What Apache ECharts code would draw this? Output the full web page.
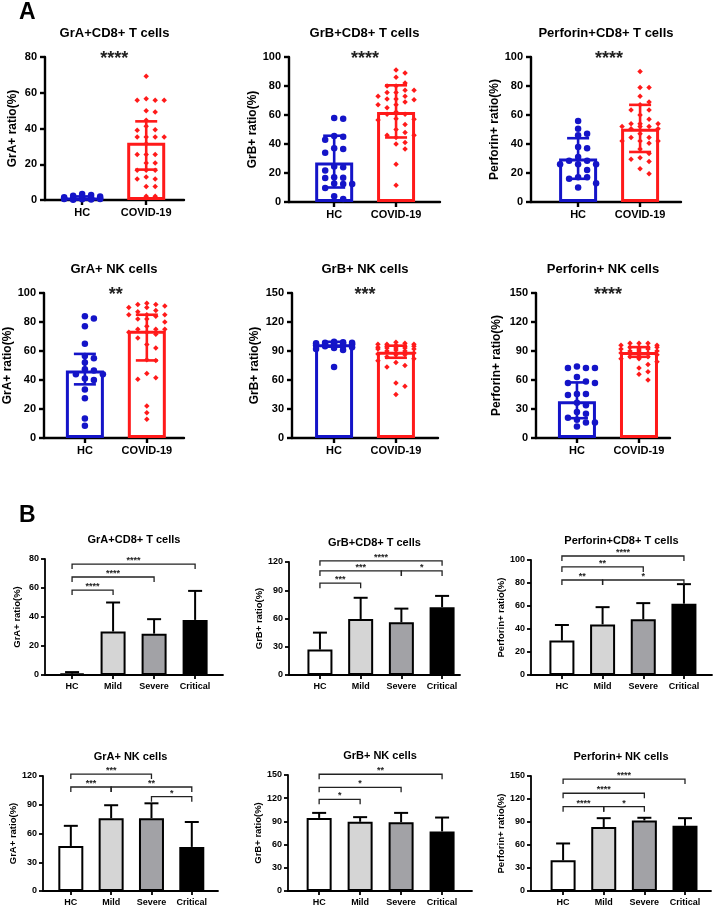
<!DOCTYPE html>
<html>
<head>
<meta charset="utf-8">
<script src="https://cdn.jsdelivr.net/npm/echarts@6/dist/echarts.min.js"></script>
<style>
  html, body { margin: 0; padding: 0; background: #fff; }
  #chart { width: 714px; height: 907px; }
</style>
</head>
<body>
<div id="chart"></div>
<script>
// ---- panel A: HC vs COVID-19 ----
const groupsA = ['HC', 'COVID-19']
const titles = ['GrA+CD8+ T cells', 'GrB+CD8+ T cells', 'Perforin+CD8+ T cells', 'GrA+ NK cells', 'GrB+ NK cells', 'Perforin+ NK cells']
const yNames = ['GrA+ ratio(%)', 'GrB+ ratio(%)', 'Perforin+ ratio(%)', 'GrA+ ratio(%)', 'GrB+ ratio(%)', 'Perforin+ ratio(%)']
const yMaxA = [80, 100, 100, 100, 150, 150]
const yStepA = [20, 20, 20, 20, 30, 30]
const starsA = ['****', '****', '****', '**', '***', '****']
const meanA = [[1.1, 32], [27.3, 62], [30, 50.5], [46.5, 74], [97, 89.3], [38, 89]]
const lowA = [[0.3, 17], [10, 44.5], [16, 34.5], [37, 53.5], [94.5, 83], [20.5, 84]]
const highA = [[2, 44], [45.7, 80.5], [44, 67], [58, 85], [99.5, 95.5], [57.5, 94]]

const hcA = [
  [0.2, 0.5, 0.8, 1.0, 0.4, 0.6, 1.2, 0.9, 0.3, 1.5, 3.4, 2.4, 2.8, 2.0, 0.7, 1.1, 0.5, 0.9],
  [58, 57.5, 45.5, 45, 43, 37, 36.5, 34, 24.5, 24, 21.8, 17, 16.8, 16.5, 12.8, 12.5, 12.5, 9.7, 4, 2],
  [55.8, 50.5, 47, 46, 38, 37, 31, 28.5, 28.5, 26, 26, 26, 22, 17, 17, 16, 13, 10],
  [84, 82.5, 77, 65, 56.5, 55, 52, 47.5, 46.5, 44, 44, 41, 40, 33.5, 27.5, 13.5, 8.5],
  [99.5, 99, 98.5, 98, 98, 97.5, 97, 97, 96.5, 96, 95.5, 95, 94, 93, 92, 91, 98.5, 73.5],
  [74, 72.5, 72.5, 72.5, 63, 58.5, 57, 57, 45.5, 45.5, 44.5, 36.5, 34, 27, 25, 21, 19, 16, 16, 12]
]
const covidA = [
  [69.2, 55.8, 55.8, 55.8, 56.7, 50, 49.2, 44.6, 41.2, 39, 39.3, 35.2, 35.2, 35.2, 35.2, 31.5, 25.4, 25.4, 25.4, 20.7, 20.7, 16.6, 16.6, 16.6, 12.9, 11.8, 11.8, 7.6, 7.6, 2.1, 2.1],
  [91, 89, 86, 82, 80, 80, 77, 77, 75.5, 75.5, 73, 73, 71, 71, 70.5, 69, 67, 67, 65, 62, 60.5, 60.5, 57.5, 57, 56.5, 53.5, 50, 48, 46, 46, 44.5, 41, 40, 36.5, 26, 11.5],
  [90, 79, 79, 73, 69, 67, 63.5, 63.5, 60, 57, 54, 54, 54, 52, 52, 52, 50.5, 50.5, 47, 44.5, 44.5, 42, 42, 42, 40.5, 36.5, 33.5, 30.5, 29.5, 28, 23, 19.5],
  [93, 92, 92, 91, 90, 90, 88, 87, 85, 85, 85, 84, 82, 82, 80, 77, 75, 75, 75, 73, 73, 71.5, 69, 64.5, 62, 54, 53.5, 44.5, 41.5, 40.5, 22, 17.5, 13],
  [99, 98, 97, 97, 97, 96, 95, 95, 95, 94, 93, 93, 93, 92, 92, 91, 90, 90, 88, 87, 86, 86, 84, 82, 80, 78, 75, 73.5, 57, 53.5, 45],
  [98, 98, 98, 96, 96, 94, 94, 94, 94, 92, 92, 92, 90, 90, 90, 88, 88, 88, 88, 86, 86, 84, 84, 82, 82, 79, 76, 72.5, 68.5, 66, 60]
]

// ---- panel B: HC / Mild / Severe / Critical ----
const groupsB = ['HC', 'Mild', 'Severe', 'Critical']
const yMaxB = [80, 120, 100, 120, 150, 150]
const yStepB = [20, 30, 20, 30, 30, 30]
const meanB = [[1, 30, 28.5, 38], [27, 59.5, 56, 72], [30, 44, 48.5, 62], [47, 76, 76, 46], [94.5, 89.5, 89, 77], [40, 83.5, 92, 85]]
const sdB = [[1, 20, 10, 20], [18, 22.5, 14.5, 12], [13.5, 15, 14, 17], [21, 13.5, 15.5, 26], [6.5, 6, 12, 18], [22, 11.5, 3.5, 10]]
// [from group, to group, height, stars]
const bracketsB = [
  [[0, 1, 58.6, '****'], [0, 2, 67.6, '****'], [0, 3, 76.5, '****']],
  [[0, 1, 97.5, '***'], [0, 2, 110.5, '***'], [2, 3, 110.5, '*'], [0, 3, 121.3, '****']],
  [[0, 1, 82.6, '**'], [1, 3, 82.6, '*'], [0, 2, 94, '**'], [0, 3, 103.5, '****']],
  [[2, 3, 98.4, '*'], [0, 1, 108.5, '***'], [1, 3, 108.5, '**'], [0, 2, 122, '***']],
  [[0, 1, 118.5, '*'], [0, 2, 134, '*'], [0, 3, 151, '**']],
  [[0, 1, 110, '****'], [1, 2, 110, '*'], [0, 2, 127.5, '****'], [0, 3, 146, '****']]
]

// layout: [left, top, right, bottom, xMin, xMax, nameGap]
const layoutA = [
  [45, 57, 184, 200, -0.58, 1.59, 26],
  [289, 57, 440, 202, -0.73, 1.71, 26],
  [531, 57, 681, 202, -0.76, 1.66, 26],
  [44, 293, 184, 438, -0.66, 1.6, 30],
  [292, 293, 438, 438, -0.68, 1.68, 31],
  [536, 293, 670, 438, -0.66, 1.5, 33]
]
const layoutB = [
  [45, 559, 223, 675, -0.66, 3.68, 23],
  [289, 562, 460, 675, -0.76, 3.44, 19],
  [531, 560, 712, 675, -0.76, 3.69, 21],
  [43, 776, 218, 891, -0.69, 3.65, 24],
  [288, 775, 472, 891, -0.76, 3.73, 21],
  [531, 776, 711, 891, -0.79, 3.64, 20]
]

const font = "'Liberation Sans', Arial, sans-serif"
const colorsA = ['#1414c8', '#ff1a1a']
const fillB = ['#ffffff', '#d5d5d5', '#a2a2a6', '#000000']

// spread points sideways like a prism dot plot
function swarm(values, center, pxX, pxY) {
  const step = 9, maxCol = 2, minDist = 6
  const offs = [0]
  for (let c = 1; c <= maxCol; c++) offs.push(c, -c)
  const placed = []
  const order = values.map((v, i) => i).sort((a, b) => values[b] - values[a])
  return order.map(i => {
    const y = values[i] * pxY
    let best = 0, bestGap = -1
    for (const o of offs) {
      let gap = Infinity
      placed.forEach(p => { if (p[0] === o) gap = Math.min(gap, Math.abs(p[1] - y)) })
      if (gap >= minDist) { best = o; bestGap = Infinity; break }
      if (gap > bestGap) { bestGap = gap; best = o }
    }
    placed.push([best, y])
    return [center + best * step / pxX, values[i]]
  })
}

const grid = [], xAxis = [], yAxis = [], series = [], graphic = []

function addPanel(k, g, groups, yMax, yStep, yName, s) {
  grid.push({ left: g[0], top: g[1], width: g[2] - g[0], height: g[3] - g[1] })
  const line = { color: '#000', width: s.axisW }
  const ticks = groups.map((_, j) => j)
  xAxis.push({
    gridIndex: k, type: 'value', min: g[4], max: g[5],
    axisLine: { onZero: false, lineStyle: line },
    axisTick: { customValues: ticks, length: s.tick, lineStyle: line },
    axisLabel: {
      customValues: ticks, formatter: v => groups[Math.round(v)],
      color: '#000', fontWeight: 'bold', fontFamily: font, fontSize: s.label, margin: 7
    },
    splitLine: { show: false }
  })
  yAxis.push({
    gridIndex: k, type: 'value', min: 0, max: yMax, interval: yStep,
    name: yName, nameLocation: 'middle', nameGap: g[6], nameRotate: 90,
    nameTextStyle: { color: '#000', fontWeight: 'bold', fontFamily: font, fontSize: s.name },
    axisLine: { show: true, onZero: false, lineStyle: line },
    axisTick: { show: true, length: s.tick, lineStyle: line },
    axisLabel: { color: '#000', fontWeight: 'bold', fontFamily: font, fontSize: s.label, margin: s.yMargin },
    splitLine: { show: false }
  })
  graphic.push({
    type: 'text', x: (g[0] + g[2]) / 2, y: g[1] - s.titleGap,
    style: { text: titles[k % 6], font: 'bold ' + s.title + 'px ' + font, fill: '#000', align: 'center', verticalAlign: 'middle' }
  })
}

const styA = { axisW: 2.4, tick: 5, label: 11, name: 12, title: 13, titleGap: 24, yMargin: 8 }
const styB = { axisW: 1.8, tick: 4, label: 9, name: 9.5, title: 11, titleGap: 19, yMargin: 6 }

layoutA.forEach((g, i) => {
  addPanel(i, g, groupsA, yMaxA[i], yStepA[i], yNames[i], styA)
  const pxX = (g[2] - g[0]) / (g[5] - g[4])
  const pxY = (g[3] - g[1]) / yMaxA[i]
  series.push({
    type: 'bar', xAxisIndex: i, yAxisIndex: i, barWidth: 38, z: 2,
    data: meanA[i].map((m, j) => ({
      value: [j, m],
      itemStyle: { color: '#fff', borderColor: colorsA[j], borderWidth: 3 }
    }))
  })
  ;[hcA[i], covidA[i]].forEach((vals, j) => {
    series.push({
      type: 'scatter', xAxisIndex: i, yAxisIndex: i, z: 3,
      symbol: j ? 'diamond' : 'circle', symbolSize: j ? 5.5 : 6.5,
      itemStyle: { color: colorsA[j], opacity: 1 },
      data: swarm(vals, j, pxX, pxY)
    })
  })
  series.push({
    type: 'custom', xAxisIndex: i, yAxisIndex: i, z: 4, silent: true,
    data: meanA[i].map((m, j) => [j, lowA[i][j], highA[i][j]]),
    renderItem: (params, api) => {
      const x = api.value(0)
      const lo = api.coord([x, api.value(1)])
      const hi = api.coord([x, api.value(2)])
      const st = { stroke: colorsA[params.dataIndex], lineWidth: 2.6 }
      const cap = 11
      return {
        type: 'group', children: [
          { type: 'line', shape: { x1: lo[0], y1: lo[1], x2: hi[0], y2: hi[1] }, style: st },
          { type: 'line', shape: { x1: hi[0] - cap, y1: hi[1], x2: hi[0] + cap, y2: hi[1] }, style: st },
          { type: 'line', shape: { x1: lo[0] - cap, y1: lo[1], x2: lo[0] + cap, y2: lo[1] }, style: st }
        ]
      }
    }
  })
  // significance stars above the pair
  series.push({
    type: 'custom', xAxisIndex: i, yAxisIndex: i, z: 5, silent: true,
    data: [[0.5, yMaxA[i]]],
    renderItem: (params, api) => {
      const c = api.coord([api.value(0), api.value(1)])
      return {
        type: 'text', x: c[0], y: c[1] + 2,
        style: { text: starsA[i], font: 'bold 18px ' + font, fill: '#222', align: 'center', verticalAlign: 'middle' }
      }
    }
  })
})

layoutB.forEach((g, i) => {
  const k = i + 6
  addPanel(k, g, groupsB, yMaxB[i], yStepB[i], yNames[i], styB)
  series.push({
    type: 'bar', xAxisIndex: k, yAxisIndex: k, barWidth: 25, z: 2,
    data: meanB[i].map((m, j) => ({
      value: [j, m],
      itemStyle: { color: fillB[j], borderColor: '#000', borderWidth: 2 }
    }))
  })
  series.push({
    type: 'custom', xAxisIndex: k, yAxisIndex: k, z: 1, silent: true,
    data: meanB[i].map((m, j) => [j, m, m + sdB[i][j]]),
    renderItem: (params, api) => {
      const x = api.value(0)
      const lo = api.coord([x, api.value(1)])
      const hi = api.coord([x, api.value(2)])
      const st = { stroke: '#000', lineWidth: 2 }
      return {
        type: 'group', children: [
          { type: 'line', shape: { x1: lo[0], y1: lo[1], x2: hi[0], y2: hi[1] }, style: st },
          { type: 'line', shape: { x1: hi[0] - 7, y1: hi[1], x2: hi[0] + 7, y2: hi[1] }, style: st }
        ]
      }
    }
  })
  const list = bracketsB[i]
  series.push({
    type: 'custom', xAxisIndex: k, yAxisIndex: k, z: 5, silent: true,
    data: list.map(b => [b[0], b[1], b[2]]),
    encode: { x: [0, 1], y: 2 },
    renderItem: (params, api) => {
      const a = api.coord([api.value(0), api.value(2)])
      const b = api.coord([api.value(1), api.value(2)])
      const st = { stroke: '#222', lineWidth: 1.3, fill: null }
      return {
        type: 'group', children: [
          { type: 'polyline', shape: { points: [[a[0], a[1] + 5], [a[0], a[1]], [b[0], b[1]], [b[0], b[1] + 5]] }, style: st },
          {
            type: 'text', x: (a[0] + b[0]) / 2, y: a[1] + 1,
            style: { text: list[params.dataIndex][3], font: 'bold 9px ' + font, fill: '#222', align: 'center', verticalAlign: 'bottom' }
          }
        ]
      }
    }
  })
})

graphic.push(
  { type: 'text', x: 19, y: 13, style: { text: 'A', font: 'bold 23px ' + font, fill: '#000', verticalAlign: 'middle' } },
  { type: 'text', x: 19, y: 516, style: { text: 'B', font: 'bold 23px ' + font, fill: '#000', verticalAlign: 'middle' } }
)

const chart = echarts.init(document.getElementById('chart'))
chart.setOption({
  animation: false,
  backgroundColor: '#fff',
  grid, xAxis, yAxis, series, graphic
})
</script>
</body>
</html>
